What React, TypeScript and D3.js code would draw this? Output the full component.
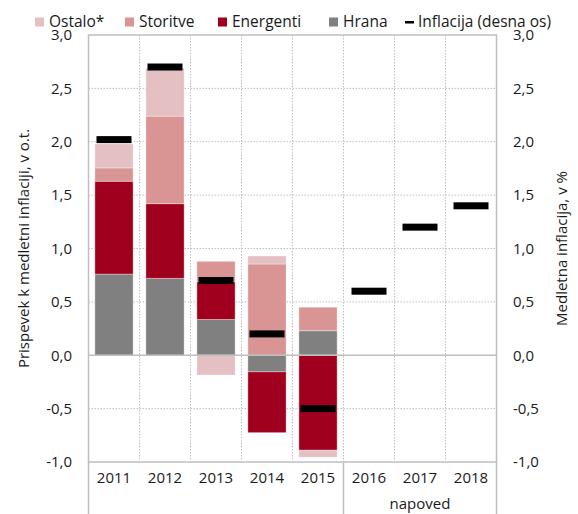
import React from "react";
import * as d3 from "d3";

const categories = ["2011", "2012", "2013", "2014", "2015", "2016", "2017", "2018"];
const hrana = [0.76, 0.72, 0.335, -0.155, 0.23, 0, 0, 0];
const energenti = [0.87, 0.70, 0.355, -0.57, -0.89, 0, 0, 0];
const storitve = [0.125, 0.82, 0.19, 0.855, 0.22, 0, 0, 0];
const ostalo = [0.225, 0.45, -0.185, 0.075, -0.065, 0, 0, 0];
const inflacija = [2.02, 2.70, 0.70, 0.20, -0.50, 0.60, 1.20, 1.40];
const yTicks = [-1.0, -0.5, 0, 0.5, 1.0, 1.5, 2.0, 2.5, 3.0];
const seriesNames = ["Hrana", "Energenti", "Storitve", "Ostalo*"];
const seriesColors = ["#808080", "#a0001e", "#d99594", "#e4c0c2"];
const legendItems = [
  { label: "Ostalo*", color: "#e4c0c2", x: 35 },
  { label: "Storitve", color: "#d99594", x: 125 },
  { label: "Energenti", color: "#a0001e", x: 218 },
  { label: "Hrana", color: "#808080", x: 329 },
];

const W = 578, H = 514;
const M = { left: 88.5, right: 496.5, top: 35, bottom: 462 };
const FONT = "'Open Sans', 'Noto Sans', sans-serif";

export default function App() {
  const x = d3.scaleBand<string>().domain(categories).range([M.left, M.right]).paddingInner(0.25).paddingOuter(0.125);
  const xb = d3.scaleBand<string>().domain(categories).range([M.left, M.right]);
  const y = d3.scaleLinear().domain([-1, 3]).range([M.bottom, M.top]);

  const rows = categories.map((c, i) => ({
    cat: c,
    Hrana: hrana[i],
    Energenti: energenti[i],
    Storitve: storitve[i],
    "Ostalo*": ostalo[i],
  }));
  const stack = d3.stack<any>().keys(seriesNames).offset(d3.stackOffsetDiverging);
  const series = stack(rows);
  const fmt = (v: number) => d3.format(".1f")(v).replace(".", ",").replace("−", "-");
  const grey = "#bfbfbf";
  const sepX = xb("2016")!;

  return (
    <svg width={W} height={H} style={{ position: "absolute", left: 0, top: 0 }} fontFamily={FONT}>
      {/* grid */}
      {yTicks.filter((t) => t !== 0 && t !== 3 && t !== -1).map((t) => (
        <line key={"h" + t} x1={M.left} x2={M.right} y1={y(t)} y2={y(t)} stroke={grey} strokeDasharray="1.5,1.5" />
      ))}
      {categories.slice(1).map((c) => (
        <line key={"v" + c} x1={xb(c)} x2={xb(c)} y1={M.top} y2={M.bottom} stroke={grey} strokeDasharray="1.5,1.5" />
      ))}
      {/* bars */}
      {series.map((s, si) => (
        <g key={s.key} fill={seriesColors[si]}>
          {s.map((d, i) => {
            const v = (d.data as any)[s.key];
            if (!v) return null;
            const y0 = y(d[1]), y1 = y(d[0]);
            return (
              <rect key={i} x={x(categories[i])} width={x.bandwidth()} y={Math.min(y0, y1)} height={Math.abs(y1 - y0)}
                stroke="#ffffff" strokeOpacity={0.35} strokeWidth={1} />
            );
          })}
        </g>
      ))}
      {/* frame */}
      <rect x={M.left} y={M.top} width={M.right - M.left} height={M.bottom - M.top} fill="none" stroke={grey} strokeWidth={1.5} />
      <line x1={M.left} x2={M.right} y1={y(0)} y2={y(0)} stroke={grey} strokeWidth={1.5} />
      <line x1={M.left} x2={M.left} y1={M.bottom} y2={H} stroke={grey} strokeWidth={1.5} />
      <line x1={sepX} x2={sepX} y1={M.bottom} y2={H} stroke={grey} strokeWidth={1.5} />
      <line x1={M.right} x2={M.right} y1={M.bottom} y2={H} stroke={grey} strokeWidth={1.5} />
      {/* inflation markers */}
      {inflacija.map((v, i) => (
        <rect key={"m" + i} x={xb(categories[i])! + xb.bandwidth() / 2 - 17.5} width={35} y={y(v) - 3.5} height={7} fill="#000" />
      ))}
      {/* y axes */}
      {yTicks.map((t) => (
        <g key={"t" + t} fontSize={15} fill="#1a1a1a">
          <text x={72} y={y(t)} dy="0.35em" textAnchor="end">{fmt(t)}</text>
          <text x={513} y={y(t)} dy="0.35em" textAnchor="start">{fmt(t)}</text>
        </g>
      ))}
      {categories.map((c) => (
        <text key={"c" + c} x={xb(c)! + xb.bandwidth() / 2} y={478} dy="0.35em" textAnchor="middle" fontSize={15} fill="#1a1a1a">{c}</text>
      ))}
      <text x={(sepX + M.right) / 2} y={504} dy="0.35em" textAnchor="middle" fontSize={15} fill="#1a1a1a">napoved</text>
      <text transform={`translate(24,${(M.top + M.bottom) / 2}) rotate(-90)`} textAnchor="middle" dy="0.35em" fontSize={15} fill="#1a1a1a">
        Prispevek k medletni inflaciji,  v o.t.
      </text>
      <text transform={`translate(562,${(M.top + M.bottom) / 2}) rotate(-90)`} textAnchor="middle" dy="0.35em" fontSize={15} fill="#1a1a1a">
        Medletna inflacija, v %
      </text>
      {/* legend */}
      {legendItems.map((l) => (
        <g key={l.label}>
          <rect x={l.x} y={17.5} width={9} height={9} fill={l.color} />
          <text x={l.x + 14} y={21.5} dy="0.35em" fontSize={15.5} fill="#1a1a1a">{l.label}</text>
        </g>
      ))}
      <rect x={405} y={21} width={9} height={2.5} fill="#000" />
      <text x={418} y={21.5} dy="0.35em" fontSize={15.5} fill="#1a1a1a">Inflacija (desna os)</text>
    </svg>
  );
}
